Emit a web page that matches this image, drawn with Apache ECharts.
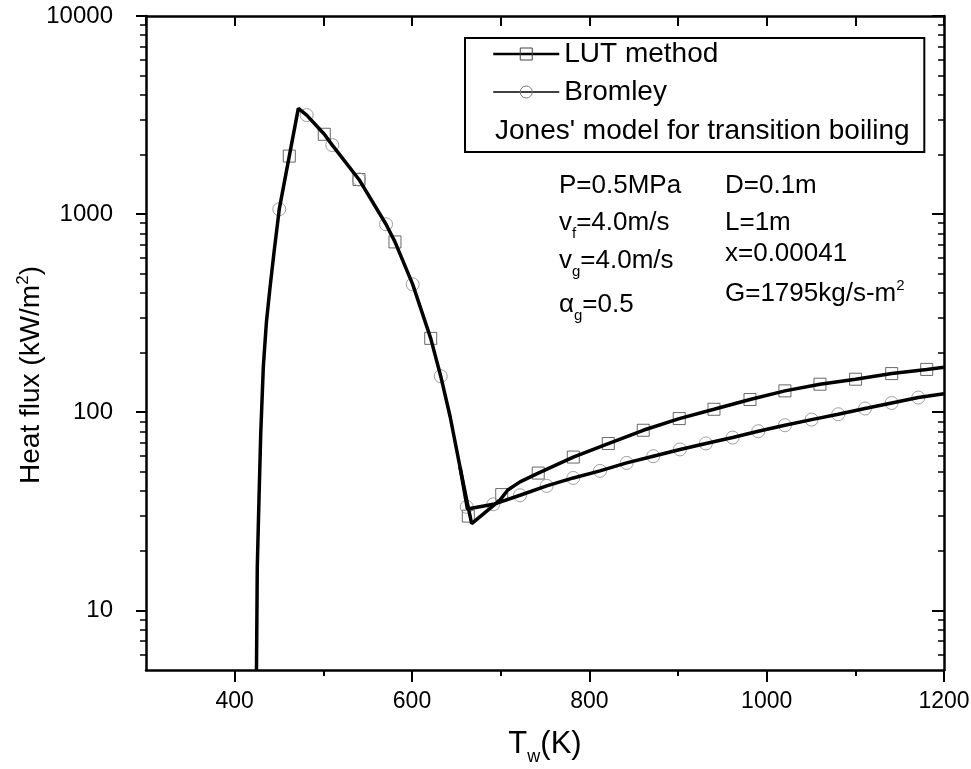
<!DOCTYPE html>
<html>
<head>
<meta charset="utf-8">
<title>Heat flux vs wall temperature</title>
<script src="https://cdn.jsdelivr.net/npm/echarts@6/dist/echarts.min.js"></script>
<style>
  html, body { margin: 0; padding: 0; background: #fff; }
  #chart { width: 971px; height: 769px; }
</style>
</head>
<body>
<div id="chart"></div>
<script>
// transition boiling part (Jones' model), shared by both curves
const jonesT = [424.6, 425.5, 427.4, 429.4, 432.3, 435.8, 439.8, 444.4, 450.3, 461.6, 471.8, 481.2, 501.1, 510.1, 540.2, 570.7, 580.8, 600.8, 621.1, 632.4, 643.1, 654.1];
const jonesQ = [5, 16.5, 36, 78, 169, 285, 423, 643, 1059, 1963, 3420, 3162, 2530, 2230, 1496, 889, 724, 442, 236, 152, 94.6, 53];

// film boiling, LUT method
const lutT = [654.1, 661.7, 667.3, 699.2, 708, 721.8, 742.4, 781.9, 821.4, 860.8, 901.4, 940.6, 981.2, 1020.6, 1060.1, 1100.3, 1141, 1180.5, 1200];
const lutQ = [53, 36, 27.4, 36, 40.5, 44.5, 49.3, 59.4, 69.5, 81.1, 92.9, 103.5, 115.9, 128.2, 138.5, 146.8, 156.7, 164.5, 168.6];
const lutMarkT = [461.6, 501.1, 540.2, 580.8, 621.1, 663.5, 701.2, 742.4, 781.9, 821.4, 860.8, 901.4, 940.6, 981.2, 1020.6, 1060.1, 1100.3, 1141, 1180.5];
const lutMarkQ = [1963, 2530, 1496, 724, 236, 29.9, 38.4, 49.3, 59.4, 69.5, 81.1, 92.9, 103.5, 115.9, 128.2, 138.5, 146.8, 156.7, 164.5];

// film boiling, Bromley
const bromT = [654.1, 662.5, 691.7, 721.8, 751.9, 781.9, 812, 842.1, 872.1, 902.2, 931.5, 961.6, 990.5, 1020.6, 1050.7, 1080.7, 1110.9, 1141, 1171, 1200];
const bromQ = [53, 32.5, 34.3, 38.1, 42.5, 46.6, 50.6, 55.5, 60, 64.9, 69.6, 74.5, 80.2, 86, 91.8, 97.7, 104.4, 111.4, 118.6, 124];
const bromMarkT = [450.3, 481.2, 510.1, 540.2, 570.7, 600.8, 632.4, 661.7, 691.7, 721.8, 751.9, 781.9, 812, 842.1, 872.1, 902.2, 931.5, 961.6, 990.5, 1020.6, 1050.7, 1080.7, 1110.9, 1141, 1171];
const bromMarkQ = [1059, 3162, 2230, 1496, 889, 442, 152, 33.3, 34.3, 38.1, 42.5, 46.6, 50.6, 55.5, 60, 64.9, 69.6, 74.5, 80.2, 86, 91.8, 97.7, 104.4, 111.4, 118.6];

// axis ticks
const xLabelVals = [400, 600, 800, 1000, 1200];
const xHalfTicks = [500, 700, 900, 1100];
const yLabelVals = [10, 100, 1000, 10000];
const yMinorTicks = [6, 7, 8, 9, 20, 30, 40, 50, 60, 70, 80, 90, 200, 300, 400, 500, 600, 700, 800, 900, 2000, 3000, 4000, 5000, 6000, 7000, 8000, 9000];

const FONT = 'Liberation Sans';
const pairs = (xs, ys) => xs.map((x, i) => [x, ys[i]]);

const chart = echarts.init(document.getElementById('chart'));

// rich styles for the notes (zrender style uses fill)
const noteRich = {
  n: { fontSize: 26, fontFamily: FONT, fill: '#000' },
  s: { fontSize: 15, fontFamily: FONT, fill: '#000', padding: [22, 0, 0, 0] },
  u: { fontSize: 15, fontFamily: FONT, fill: '#000', padding: [0, 0, 16, 0] }
};
function note(x, y, text) {
  return {
    type: 'text', x: x, y: y, silent: true,
    style: { text: text, rich: noteRich, fontSize: 26, fontFamily: FONT, fill: '#000', align: 'left', verticalAlign: 'middle' }
  };
}

const axisLine = { show: true, lineStyle: { color: '#000', width: 2.5 } };
const noSplit = { show: false };
const plain = v => String(v);

const option = {
  backgroundColor: '#fff',
  animation: false,
  grid: { left: 146, right: 27, top: 16, bottom: 99, containLabel: false, outerBoundsMode: 'none' },
  legend: [
    {
      orient: 'vertical', left: 465, top: 38,
      padding: [2, 206, 46, 27],
      itemGap: 10, itemWidth: 66, itemHeight: 15,
      borderColor: '#000', borderWidth: 2,
      selectedMode: false,
      textStyle: { fontSize: 28, fontFamily: FONT, color: '#000' },
      data: [
        { name: 'LUT method', lineStyle: { width: 2.5, color: '#000' }, itemStyle: { color: 'rgba(0,0,0,0)', borderColor: '#444', borderWidth: 1 } },
        { name: 'Bromley', lineStyle: { width: 1.5, color: '#000' }, itemStyle: { color: 'rgba(0,0,0,0)', borderColor: '#777', borderWidth: 1 } }
      ]
    },
    {
      orient: 'vertical', left: 485, top: 112,
      itemWidth: 0, itemHeight: 15,
      selectedMode: false,
      textStyle: { fontSize: 28, fontFamily: FONT, color: '#000' },
      data: [{ name: "Jones' model for transition boiling", icon: 'none' }]
    }
  ],
  xAxis: [
    {
      type: 'value', min: 300, max: 1200, position: 'bottom',
      name: '{n|T}{s|w}{n|(K)}', nameLocation: 'middle', nameGap: 53, nameMoveOverlap: false,
      nameTextStyle: {
        rich: {
          n: { fontSize: 31, fontFamily: FONT, color: '#000' },
          s: { fontSize: 18, fontFamily: FONT, color: '#000', padding: [25, 0, 0, 0] }
        }
      },
      axisLine: axisLine,
      axisTick: { customValues: xLabelVals, length: 12, lineStyle: { color: '#000', width: 2 } },
      axisLabel: { customValues: xLabelVals, formatter: plain, margin: 20, fontSize: 23, fontFamily: FONT, color: '#000' },
      splitLine: noSplit
    },
    {
      type: 'value', min: 300, max: 1200, position: 'bottom',
      axisLine: { show: false },
      axisTick: { customValues: xHalfTicks, length: 6, lineStyle: { color: '#000', width: 2 } },
      axisLabel: { show: false },
      splitLine: noSplit
    },
    {
      type: 'value', min: 300, max: 1200, interval: 100, position: 'top',
      axisLine: axisLine,
      axisTick: { inside: true, length: 10, lineStyle: { color: '#000', width: 2 } },
      axisLabel: { show: false },
      splitLine: noSplit
    }
  ],
  yAxis: [
    {
      type: 'log', logBase: 10, min: 5, max: 10000, position: 'left',
      name: '{n|Heat flux (kW/m}{u|2}{n|)}', nameLocation: 'middle', nameGap: 98, nameRotate: 90,
      nameMoveOverlap: false,
      nameTextStyle: {
        padding: [0, 64, 0, 0],
        rich: {
          n: { fontSize: 28, fontFamily: FONT, color: '#000' },
          u: { fontSize: 17, fontFamily: FONT, color: '#000', padding: [0, 0, 16, 0] }
        }
      },
      axisLine: axisLine,
      axisTick: { customValues: yLabelVals, length: 10, lineStyle: { color: '#000', width: 2 } },
      axisLabel: { customValues: yLabelVals, formatter: plain, margin: 33, fontSize: 24, fontFamily: FONT, color: '#000' },
      splitLine: noSplit
    },
    {
      type: 'log', logBase: 10, min: 5, max: 10000, position: 'left',
      axisLine: { show: false },
      axisTick: { customValues: yMinorTicks, length: 6, lineStyle: { color: '#000', width: 1.5 } },
      axisLabel: { show: false },
      splitLine: noSplit
    },
    {
      type: 'log', logBase: 10, min: 5, max: 10000, position: 'right',
      axisLine: axisLine,
      axisTick: { customValues: yLabelVals, inside: true, length: 12, lineStyle: { color: '#000', width: 2 } },
      axisLabel: { show: false },
      splitLine: noSplit
    },
    {
      type: 'log', logBase: 10, min: 5, max: 10000, position: 'right',
      axisLine: { show: false },
      axisTick: { customValues: yMinorTicks, inside: true, length: 6, lineStyle: { color: '#000', width: 1.5 } },
      axisLabel: { show: false },
      splitLine: noSplit
    }
  ],
  series: [
    {
      name: 'LUT method', type: 'line', symbol: 'rect', showSymbol: false, z: 3,
      itemStyle: { color: '#000' },
      lineStyle: { color: '#000', width: 3.5 },
      data: pairs(lutT, lutQ)
    },
    {
      name: 'Bromley', type: 'line', symbol: 'circle', showSymbol: false, z: 3,
      itemStyle: { color: '#000' },
      lineStyle: { color: '#000', width: 3.5 },
      data: pairs(bromT, bromQ)
    },
    {
      name: "Jones' model for transition boiling", type: 'line', symbol: 'none', z: 3,
      lineStyle: { color: '#000', width: 3.5 },
      data: pairs(jonesT, jonesQ)
    },
    {
      name: 'LUT method', type: 'scatter', symbol: 'rect', symbolSize: 12, z: 2,
      itemStyle: { color: 'rgba(0,0,0,0)', borderColor: '#444', borderWidth: 1 },
      data: pairs(lutMarkT, lutMarkQ)
    },
    {
      name: 'Bromley', type: 'scatter', symbol: 'circle', symbolSize: 13, z: 2,
      itemStyle: { color: 'rgba(0,0,0,0)', borderColor: '#888', borderWidth: 1 },
      data: pairs(bromMarkT, bromMarkQ)
    }
  ],
  graphic: [
    note(559, 185.5, '{n|P=0.5MPa}'),
    note(559, 223, '{n|v}{s|f}{n|=4.0m/s}'),
    note(559, 260.5, '{n|v}{s|g}{n|=4.0m/s}'),
    note(559, 305, '{n|α}{s|g}{n|=0.5}'),
    note(725, 185.5, '{n|D=0.1m}'),
    note(725, 223, '{n|L=1m}'),
    note(725, 254, '{n|x=0.00041}'),
    note(725, 294, '{n|G=1795kg/s-m}{u|2}')
  ]
};

chart.setOption(option);
window.addEventListener('resize', function () {
  chart.resize();
});
</script>
</body>
</html>
